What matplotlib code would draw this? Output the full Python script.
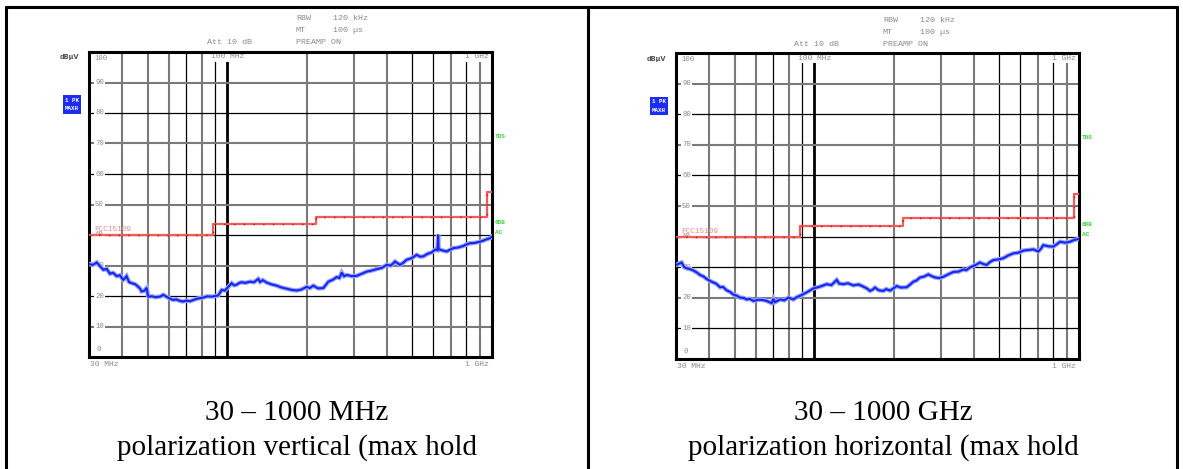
import matplotlib
matplotlib.use("Agg")
import matplotlib.pyplot as plt
from matplotlib.transforms import blended_transform_factory

W, H = 1183, 469

# ---------------------------------------------------------------- data
# limit line FCC 15.109 (frequency breakpoints in MHz, level in dBuV)
limit_freq = [30, 88, 216, 960, 1000]
limit_level = [40, 43.5, 46, 54, 54]

# vertical polarization, max hold trace
vert_freq = [30, 31, 32.1, 33, 34.0, 35, 36.0, 37, 38.2, 39.2, 40.4, 41.0, 41.6,
             42.5, 43.5, 44.8, 46.1, 46.8, 47.4, 48.5, 49.6, 50.0, 50.3, 52, 53.5,
             55.7, 57.3, 59, 60.7, 62.5, 64, 66.2, 68, 70, 72.2, 74.5, 76.6, 79,
             81.1, 84, 87.3, 90, 92.4, 95.2, 98, 100.8, 103.8, 106, 108.4, 111,
             113.3, 117, 121.8, 126, 130.8, 133, 136, 140.8, 147, 153.6, 160,
             167.6, 175, 182.8, 190, 199.4, 205, 211.2, 220, 230.4, 240.8, 250,
             258.9, 265, 270.5, 276, 282.6, 295, 308.1, 322, 336.1, 350, 366.7,
             383, 400.1, 415, 430, 449, 462, 476, 497, 519.5, 535, 550, 570,
             591.6, 609, 622, 626, 628, 632, 645.6, 674, 695, 714, 745, 779, 800,
             826, 860, 901, 930, 955, 980, 1000]
vert_level = [30.5, 30.2, 31.0, 29.8, 28.6, 28.9, 27.3, 27.6, 26.5, 26.8, 25.3, 25.8, 26.5,
              24.6, 24.2, 23.9, 23.0, 22.4, 21.5, 21.7, 22.7, 20.5, 19.8, 19.9, 19.6,
              19.8, 20.4, 19.7, 19.1, 18.7, 18.9, 18.4, 18.2, 18.5, 18.3, 18.7, 19.1, 19.3,
              19.5, 19.9, 19.8, 20.0, 20.2, 22.0, 21.8, 23.0, 24.2, 23.5, 23.7, 24.3,
              24.5, 24.3, 24.7, 24.5, 25.6, 24.6, 25.2, 24.4, 23.8, 23.4, 22.8,
              22.4, 22.0, 21.8, 22.1, 23.0, 22.6, 23.4, 22.5, 22.6, 24.7, 25.3,
              26.2, 25.9, 27.7, 26.5, 26.9, 26.5, 26.6, 27.3, 28.0, 28.3, 28.8,
              29.2, 30.2, 30.0, 31.3, 30.2, 30.9, 31.9, 32.4, 33.5, 32.9, 33.0, 33.8,
              34.3, 35.2, 35.0, 40.1, 35.6, 35.3, 35.0, 34.6, 35.2, 35.7, 35.9, 36.4, 36.9,
              37.3, 37.4, 37.8, 38.2, 38.6, 38.9, 39.5]

# horizontal polarization, max hold trace
horz_freq = [30, 31.5, 32.2, 32.9, 34, 34.9, 36, 37.0, 38, 39.2, 40.9, 42.5, 44.0,
             45.2, 46.6, 48, 49.4, 51, 52.4, 54, 55.5, 57, 58.8, 61.5, 64.2, 66.5,
             69.0, 70.0, 71, 74.2, 77, 79.7, 81.5, 83.3, 86, 88.3, 93.5, 99.1, 105,
             111.3, 116, 121.5, 124, 128.6, 134, 140.3, 147, 153.1, 158, 162.3, 166,
             169.5, 175, 182.2, 187, 193.1, 198, 204.7, 212, 223.3, 230, 236.5, 243,
             250.7, 260, 269.5, 278, 285.7, 296, 307, 320, 335, 350, 365.5, 375,
             387.3, 405, 422.6, 435, 448, 460, 474.5, 495, 517.8, 540, 564.9, 590,
             616.3, 645, 672, 701.8, 718, 733, 765, 800, 825, 848, 885, 925, 960, 1000]
horz_level = [30.7, 31.5, 30.0, 29.6, 29.3, 28.9, 28.2, 27.4, 27.0, 26.1, 25.2, 24.6, 23.4,
              23.5, 22.4, 21.9, 21.0, 20.6, 20.0, 19.9, 19.4, 19.6, 18.9, 19.3, 19.2, 18.8,
              18.2, 19.6, 18.5, 19.4, 19.1, 20.0, 19.7, 19.4, 20.2, 20.6, 21.7, 23.0, 23.6,
              24.4, 24.1, 25.8, 24.6, 24.4, 24.7, 24.0, 24.3, 23.6, 23.0, 22.2, 22.6,
              23.3, 22.4, 22.2, 22.8, 22.3, 22.9, 23.8, 23.3, 23.4, 24.3, 25.2, 25.6,
              26.6, 26.9, 27.6, 27.0, 26.6, 26.4, 26.8, 27.6, 28.4, 28.5, 29.2, 29.0,
              29.9, 30.6, 31.5, 31.0, 30.7, 31.6, 32.3, 32.5, 32.9, 33.8, 34.5, 34.7,
              35.4, 35.6, 35.8, 35.1, 36.0, 37.2, 36.8, 36.7, 37.5, 38.3, 38.0, 38.3, 38.9, 39.2]

vgrid_freq = [40, 50, 60, 70, 80, 90, 100, 200, 300, 400, 500, 600, 700, 800, 900]
hgrid_level = [10, 20, 30, 40, 50, 60, 70, 80, 90]
ylabel_level = [90, 80, 70, 60, 50, 40, 30, 20, 10]

captions = [("30 \u2013 1000 MHz", "polarization vertical (max hold"),
            ("30 \u2013 1000 GHz", "polarization horizontal (max hold")]

# ---------------------------------------------------------------- styles
GRAY = "#7a7a7a"
LABEL = "#8a8a8a"
MONO = "Liberation Mono"

vgrid_style = ["g", "g", "g", "k", "g", "k", "K", "g", "g", "g", "k", "k", "g", "k", "g"]
hgrid_style_left = ["g", "k", "g", "k", "g", "k", "g", "k", "g"]
hgrid_style_right = ["k", "g", "k", "k", "g", "k", "g", "k", "g"]


def px_axes(x0, y0, x1, y1):
    return fig.add_axes([x0 / W, 1 - y1 / H, (x1 - x0) / W, (y1 - y0) / H])


fig = plt.figure(figsize=(W / 100, H / 100), dpi=100)
fig.patch.set_facecolor("white")

# page layer in pixel coordinates (table frame, header texts, captions)
page = fig.add_axes([0, 0, 1, 1], zorder=0)
page.set_xlim(0, W)
page.set_ylim(H, 0)
page.axis("off")

for xx in (6.5, 588, 1177):
    page.plot([xx, xx], [6, H], color="black", lw=2.2, solid_capstyle="butt")
page.plot([5.5, 1178], [7, 7], color="black", lw=2.2, solid_capstyle="butt")

panels = [
    dict(box=(89, 52, 492, 357), dx=0, dy=0, freq=vert_freq, level=vert_level,
         hstyle=hgrid_style_left, cx=297, cap=captions[0]),
    dict(box=(676, 53.3, 1079, 358.7), dx=587, dy=1.5, freq=horz_freq, level=horz_level,
         hstyle=hgrid_style_right, cx=883, cap=captions[1]),
]

for p in panels:
    x0, y0, x1, y1 = p["box"]
    dx, dy = p["dx"], p["dy"]

    # instrument header
    hdr = dict(fontsize=6.0, family=MONO, color=LABEL, va="center")
    page.text(296 + dx, 19 + dy, "RBW", **hdr)
    page.text(333 + dx, 19 + dy, "120 kHz", **hdr)
    page.text(296 + dx, 31 + dy, "MT", **hdr)
    page.text(333 + dx, 31 + dy, "100 \u00b5s", **hdr)
    page.text(296 + dx, 42.5 + dy, "PREAMP ON", **hdr)
    page.text(207 + dx, 42.5 + dy, "Att 10 dB", **hdr)
    page.text(60 + dx, 57 + dy, "dB\u00b5V", fontsize=4.8, family="DejaVu Sans", weight="bold",
              color="#555555", va="center")

    # trace indicator boxes
    for yy, txt in ((100, "1 PK"), (109, "MAXH")):
        page.text(72 + dx, yy + dy, txt, fontsize=4.2, family=MONO, weight="bold", color="white",
                  ha="center", va="center",
                  bbox=dict(boxstyle="square,pad=0.35", fc="#1c2cf5", ec="none"))

    # green side labels
    for yy, txt in ((136, "TDS"), (223, "6DB"), (233, "AC")):
        page.text(495 + dx, yy + dy, txt, fontsize=4.4, family=MONO, weight="bold",
                  color="#3ad43a", va="center")

    # captions
    page.text(p["cx"], 413, p["cap"][0], fontsize=21, family="Liberation Serif",
              ha="center", va="center")
    page.text(p["cx"], 448, p["cap"][1], fontsize=21, family="Liberation Serif",
              ha="center", va="center")

    # spectrum axes
    ax = px_axes(x0, y0, x1, y1)
    ax.set_zorder(1)
    ax.set_xscale("log")
    ax.set_xlim(30, 1000)
    ax.set_ylim(0, 100)
    ax.set_xticks([])
    ax.set_yticks([])
    ax.minorticks_off()
    for s in ax.spines.values():
        s.set_linewidth(2.2)
        s.set_color("black")

    for f, st in zip(vgrid_freq, vgrid_style):
        if st == "K":
            ax.axvline(f, color="black", lw=2.0, zorder=1)
        elif st == "k":
            ax.axvline(f, color="black", lw=0.9, zorder=1)
        else:
            ax.axvline(f, color=GRAY, lw=1.5, zorder=1)
    for v, st in zip(hgrid_level, p["hstyle"]):
        if st == "k":
            ax.axhline(v, color="black", lw=0.9, zorder=1)
        else:
            ax.axhline(v, color=GRAY, lw=1.5, zorder=1)

    tr = blended_transform_factory(ax.transAxes, ax.transData)
    wbox = dict(boxstyle="square,pad=0.15", fc="white", ec="none")
    for v in ylabel_level:
        ax.text(0.015, v, str(v), transform=tr, fontsize=5.2, family=MONO, color=LABEL,
                va="center", bbox=wbox, zorder=2)
    ax.text(0.013, 98, "100", transform=tr, fontsize=5.2, family=MONO, color=LABEL,
            va="center", zorder=2)
    ax.text(0.018, 2.4, "0", transform=tr, fontsize=5.2, family=MONO, color=LABEL,
            va="center", zorder=2)

    ax.text(0.302, 0.984, "100 MHz", transform=ax.transAxes, fontsize=5.8, family=MONO,
            color=LABEL, va="center", ha="left", bbox=wbox, zorder=2)
    ax.text(0.993, 0.984, "1 GHz", transform=ax.transAxes, fontsize=5.8, family=MONO,
            color=LABEL, va="center", ha="right", bbox=wbox, zorder=2)
    ax.text(0.003, -0.024, "30 MHz", transform=ax.transAxes, fontsize=5.8, family=MONO,
            color=LABEL, va="center", ha="left", clip_on=False)
    ax.text(0.993, -0.024, "1 GHz", transform=ax.transAxes, fontsize=5.8, family=MONO,
            color=LABEL, va="center", ha="right", clip_on=False)

    # limit line with its dotted pattern
    ax.plot(limit_freq, limit_level, drawstyle="steps-post", color="#f45a5a", lw=1.6, zorder=3)
    ax.plot(limit_freq, limit_level, drawstyle="steps-post", color="#c81010", lw=1.0,
            ls=(0, (1, 6)), zorder=3)
    ax.text(0.012, 41.8, "FCC15109", transform=tr, fontsize=5.6, family=MONO,
            color="#f08a8a", va="center", zorder=3)

    # max-hold trace
    ax.plot(p["freq"], p["level"], color="#9aa6ff", lw=3.2, zorder=4, solid_joinstyle="miter")
    ax.plot(p["freq"], p["level"], color="#1526f0", lw=1.5, zorder=5, solid_joinstyle="miter")

fig.savefig("out.png", dpi=100, facecolor="white")
